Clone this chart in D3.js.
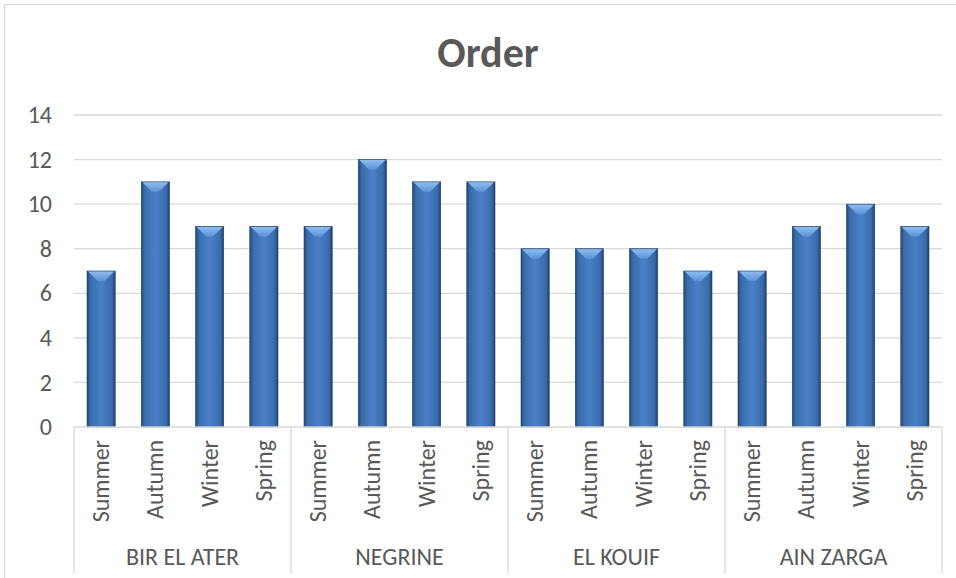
<!DOCTYPE html>
<html>
<head>
<meta charset="utf-8">
<script src="https://cdn.jsdelivr.net/npm/d3@7"></script>
<style>
  body { margin: 0; background: #fff; }
  text { font-family: Carlito, "Open Sans", "Liberation Sans", sans-serif; fill: #595959; }
</style>
</head>
<body>
<svg id="chart" width="956" height="578"></svg>
<script>
// chart data
const groups = ['BIR EL ATER', 'NEGRINE', 'EL KOUIF', 'AIN ZARGA']
const seasons = ['Summer', 'Autumn', 'Winter', 'Spring']
const orderValues = [7, 11, 9, 9, 9, 12, 11, 11, 8, 8, 8, 7, 7, 9, 10, 9]
const yTicks = [0, 2, 4, 6, 8, 10, 12, 14]

// flat list of bars
const bars = []
groups.forEach((g, gi) => {
  seasons.forEach((s, si) => {
    bars.push({ id: g + '|' + s, group: g, season: s, value: orderValues[gi * seasons.length + si] })
  })
})

const svg = d3.select('#chart')
const margin = { top: 115, left: 74, right: 14, bottom: 151 }
const width = 956 - margin.left - margin.right
const height = 578 - margin.top - margin.bottom

// outer chart border
svg.append('rect')
  .attr('x', 4.5).attr('y', 4.5)
  .attr('width', 970).attr('height', 600)
  .attr('fill', 'none').attr('stroke', '#d9d9d9')

const defs = svg.append('defs')
const grad = defs.append('linearGradient').attr('id', 'barGrad')
  .attr('x1', '0%').attr('x2', '100%').attr('y1', '0%').attr('y2', '0%')
grad.append('stop').attr('offset', '0%').attr('stop-color', '#23497a')
grad.append('stop').attr('offset', '12%').attr('stop-color', '#3a6cab')
grad.append('stop').attr('offset', '50%').attr('stop-color', '#4a80c8')
grad.append('stop').attr('offset', '88%').attr('stop-color', '#3a6cab')
grad.append('stop').attr('offset', '100%').attr('stop-color', '#1f4270')

const bevel = defs.append('linearGradient').attr('id', 'bevelGrad')
  .attr('x1', '0%').attr('x2', '0%').attr('y1', '0%').attr('y2', '100%')
bevel.append('stop').attr('offset', '0%').attr('stop-color', '#8dbcf0')
bevel.append('stop').attr('offset', '100%').attr('stop-color', '#5b93d8')

// title
svg.append('text')
  .attr('x', 488).attr('y', 67)
  .attr('text-anchor', 'middle')
  .style('font-size', '42px').style('font-weight', 'bold')
  .text('Order')

const g = svg.append('g').attr('transform', `translate(${margin.left},${margin.top})`)

const x = d3.scaleBand().domain(bars.map(d => d.id)).range([0, width]).paddingInner(0.48).paddingOuter(0.24)
const y = d3.scaleLinear().domain([0, 14]).range([height, 0])
const xg = d3.scaleBand().domain(groups).range([0, width])

// gridlines
g.append('g')
  .selectAll('line')
  .data(yTicks.filter(t => t > 0))
  .enter().append('line')
  .attr('x1', 0).attr('x2', width)
  .attr('y1', d => y(d)).attr('y2', d => y(d))
  .attr('stroke', '#d9d9d9').attr('stroke-width', 1.3)

// y axis labels
const yAxis = g.append('g')
  .call(d3.axisLeft(y).tickValues(yTicks).tickSize(0).tickPadding(22))
yAxis.select('.domain').remove()
yAxis.selectAll('text').style('font-size', '24px').style('font-family', null).attr('fill', null)

// bars
const barG = g.selectAll('.bar').data(bars).enter().append('g').attr('class', 'bar')
barG.append('rect')
  .attr('x', d => x(d.id)).attr('y', d => y(d.value))
  .attr('width', x.bandwidth()).attr('height', d => height - y(d.value))
  .attr('fill', 'url(#barGrad)')
  .attr('stroke', '#1c3c66').attr('stroke-width', 0.6)
barG.append('path')
  .attr('d', d => {
    const x0 = x(d.id), w = x.bandwidth(), y0 = y(d.value)
    return `M${x0 + 1},${y0 + 0.5} L${x0 + w - 1},${y0 + 0.5} L${x0 + w * 0.62},${y0 + 10} L${x0 + w * 0.38},${y0 + 10} Z`
  })
  .attr('fill', 'url(#bevelGrad)')

// category axis line
g.append('line')
  .attr('x1', 0).attr('x2', width).attr('y1', height).attr('y2', height)
  .attr('stroke', '#d9d9d9').attr('stroke-width', 1.3)

// group separators
g.append('g').selectAll('line')
  .data(groups.map(d => xg(d)).concat([width]))
  .enter().append('line')
  .attr('x1', d => d).attr('x2', d => d)
  .attr('y1', height).attr('y2', height + 146)
  .attr('stroke', '#d9d9d9').attr('stroke-width', 1.3)

// season labels
g.append('g').selectAll('text')
  .data(bars)
  .enter().append('text')
  .attr('transform', d => `translate(${x(d.id) + x.bandwidth() / 2 + 8},${height + 13}) rotate(-90)`)
  .attr('text-anchor', 'end')
  .style('font-size', '24px')
  .text(d => d.season)

// group labels
g.append('g').selectAll('text')
  .data(groups)
  .enter().append('text')
  .attr('x', d => xg(d) + xg.bandwidth() / 2)
  .attr('y', height + 138)
  .attr('text-anchor', 'middle')
  .style('font-size', '24px')
  .text(d => d)
</script>
</body>
</html>
